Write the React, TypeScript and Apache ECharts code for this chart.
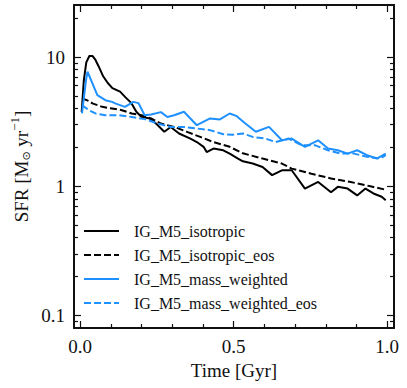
import React, { useEffect, useRef } from "react";
import * as echarts from "echarts";

// ---- data ----
const isoT = [0.005, 0.012, 0.02, 0.03, 0.04, 0.05, 0.06, 0.075, 0.09, 0.105, 0.13, 0.147, 0.167, 0.183, 0.199, 0.226, 0.247, 0.274, 0.295, 0.322, 0.359, 0.38, 0.402, 0.412, 0.434, 0.466, 0.487, 0.514, 0.53, 0.562, 0.594, 0.625, 0.657, 0.689, 0.732, 0.775, 0.817, 0.839, 0.871, 0.902, 0.929, 0.955, 0.982, 0.995];
const isoV = [3.75, 6.6, 9.1, 10.2, 10.2, 9.5, 8.5, 7.1, 6.3, 5.75, 5.4, 4.9, 4.4, 3.77, 3.45, 3.35, 3.06, 2.64, 2.88, 2.56, 2.34, 2.2, 2.02, 1.84, 1.96, 1.9, 1.79, 1.64, 1.56, 1.5, 1.41, 1.22, 1.33, 1.33, 0.96, 1.08, 0.9, 0.99, 0.96, 0.85, 0.96, 0.88, 0.83, 0.78];

const isoEosT = [0.006, 0.03, 0.04, 0.072, 0.104, 0.136, 0.168, 0.2, 0.231, 0.263, 0.306, 0.348, 0.391, 0.434, 0.487, 0.53, 0.594, 0.657, 0.689, 0.753, 0.817, 0.881, 0.945, 0.995];
const isoEosV = [4.8, 4.56, 4.38, 4.12, 4.0, 3.88, 3.66, 3.55, 3.35, 3.06, 2.88, 2.64, 2.41, 2.2, 2.02, 1.8, 1.64, 1.5, 1.37, 1.25, 1.15, 1.08, 1.0, 0.94];

const mwT = [0.006, 0.019, 0.024, 0.04, 0.056, 0.082, 0.104, 0.114, 0.146, 0.173, 0.19, 0.21, 0.231, 0.263, 0.284, 0.306, 0.338, 0.38, 0.423, 0.455, 0.487, 0.51, 0.537, 0.572, 0.615, 0.657, 0.689, 0.732, 0.775, 0.807, 0.839, 0.871, 0.902, 0.934, 0.966, 0.995];
const mwV = [3.66, 6.6, 7.7, 6.25, 5.07, 4.64, 4.5, 4.38, 4.12, 4.5, 4.4, 3.55, 3.6, 3.75, 3.44, 3.55, 3.77, 2.97, 3.35, 3.29, 3.66, 3.49, 3.08, 2.64, 2.88, 2.27, 2.34, 2.02, 2.27, 1.96, 1.9, 1.79, 1.9, 1.74, 1.64, 1.79];

const mwEosT = [0.006, 0.029, 0.05, 0.082, 0.125, 0.168, 0.21, 0.253, 0.295, 0.338, 0.38, 0.423, 0.466, 0.497, 0.53, 0.562, 0.604, 0.636, 0.679, 0.721, 0.764, 0.807, 0.849, 0.892, 0.934, 0.977, 0.995];
const mwEosV = [4.25, 3.88, 3.66, 3.55, 3.55, 3.44, 3.31, 3.06, 2.88, 2.88, 2.8, 2.72, 2.53, 2.51, 2.56, 2.41, 2.34, 2.2, 2.34, 2.08, 2.08, 1.9, 1.79, 1.79, 1.69, 1.64, 1.74];

const seriesNames = ["IG_M5_isotropic", "IG_M5_isotropic_eos", "IG_M5_mass_weighted", "IG_M5_mass_weighted_eos"];

// tick values
const xMajorTicks = [0, 0.5, 1];
const xMajorLabels = ["0.0", "0.5", "1.0"];
const xMinorTicks = [0.1, 0.2, 0.3, 0.4, 0.6, 0.7, 0.8, 0.9];
const yMajorTicks = [0.1, 1, 10];
const yMajorLabels = ["0.1", "1", "10"];
const yMinorTicks = [0.09, 0.2, 0.3, 0.4, 0.5, 0.6, 0.7, 0.8, 0.9, 2, 3, 4, 5, 6, 7, 8, 9, 20];

const X_MIN = -0.02;
const X_MAX = 1.022;
const Y_MIN = 0.08;
const Y_MAX = 25.3;

const FONT = "Liberation Serif";
const BLUE = "#1E90FF";
const INK = "#111";

function pairs(t: number[], v: number[]) {
  return t.map((x, i) => [x, v[i]]);
}

export default function App() {
  const ref = useRef<HTMLDivElement>(null);
  useEffect(() => {
    if (!ref.current) return;
    const chart = echarts.init(ref.current, undefined, { renderer: "svg" });

    const lyMin = Math.log10(Y_MIN);
    const lyMax = Math.log10(Y_MAX);

    const xTickAxis = (pos: string, vals: number[], len: number, line: boolean, labels: boolean, extra: any = {}) => ({
      type: "value",
      min: X_MIN,
      max: X_MAX,
      position: pos,
      gridIndex: 0,
      axisLine: { show: line, onZero: false, lineStyle: { color: INK, width: 2 } },
      axisTick: { show: true, inside: true, length: len, customValues: vals, lineStyle: { color: INK, width: 1.2 } },
      axisLabel: labels
        ? {
            show: true,
            customValues: vals,
            margin: 9,
            fontFamily: FONT,
            fontSize: 19,
            color: INK,
            formatter: (v: number) => xMajorLabels[xMajorTicks.findIndex((m) => Math.abs(m - v) < 1e-6)] ?? "",
          }
        : { show: false },
      splitLine: { show: false },
      ...extra,
    });

    const yTickAxis = (pos: string, vals: number[], len: number, line: boolean, labels: boolean) => ({
      type: "value",
      min: lyMin,
      max: lyMax,
      position: pos,
      gridIndex: 0,
      axisLine: { show: line, onZero: false, lineStyle: { color: INK, width: 2 } },
      axisTick: { show: true, inside: true, length: len, customValues: vals.map(Math.log10), lineStyle: { color: INK, width: 1.2 } },
      axisLabel: labels
        ? {
            show: true,
            customValues: vals.map(Math.log10),
            margin: 9,
            fontFamily: FONT,
            fontSize: 19,
            color: INK,
            formatter: (v: number) => {
              const i = yMajorTicks.findIndex((m) => Math.abs(Math.log10(m) - v) < 1e-6);
              return i >= 0 ? yMajorLabels[i] : "";
            },
          }
        : { show: false },
      splitLine: { show: false },
    });

    const option: any = {
      animation: false,
      backgroundColor: "#fff",
      textStyle: { fontFamily: FONT },
      grid: { left: 68, top: 5, width: 326, height: 323, containLabel: false },
      legend: {
        orient: "vertical",
        left: 83,
        top: 223,
        padding: 0,
        itemWidth: 35,
        itemHeight: 14,
        itemGap: 8,
        itemStyle: { opacity: 0 },
        data: seriesNames,
        formatter: (name: string) => `{t|${name}}`,
        textStyle: {
          fontFamily: FONT,
          fontSize: 16,
          color: INK,
          rich: {
            t: { fontFamily: FONT, fontSize: 16, color: INK, lineHeight: 18, padding: [0, 0, 0, 10] },
          },
        },
      },
      xAxis: [
        xTickAxis("bottom", xMajorTicks, 7, true, true, {
          name: "Time [Gyr]",
          nameLocation: "middle",
          nameGap: 30,
          nameTextStyle: { fontFamily: FONT, fontSize: 19, color: INK },
        }),
        xTickAxis("bottom", xMinorTicks, 4, false, false),
        xTickAxis("top", xMajorTicks, 7, true, false),
        xTickAxis("top", xMinorTicks, 4, false, false),
      ],
      yAxis: [
        {
          type: "log",
          logBase: 10,
          min: Y_MIN,
          max: Y_MAX,
          position: "left",
          gridIndex: 0,
          axisLine: { show: true, onZero: false, lineStyle: { color: INK, width: 2 } },
          axisTick: { show: false },
          axisLabel: { show: false },
          splitLine: { show: false },
          minorTick: { show: false },
          name: "{a|SFR [M}{sub|⊙}{a| yr}{sup|−1}{a|]}",
          nameLocation: "middle",
          nameRotate: 90,
          nameGap: 40,
          nameTextStyle: {
            fontFamily: FONT,
            fontSize: 19,
            color: INK,
            rich: {
              a: { fontFamily: FONT, fontSize: 19, color: INK, lineHeight: 26 },
              sub: { fontFamily: "DejaVu Sans", fontSize: 11, color: INK, verticalAlign: "bottom", lineHeight: 26, padding: [0, 0, 2, 0] },
              sup: { fontFamily: FONT, fontSize: 13, color: INK, verticalAlign: "top", lineHeight: 26 },
            },
          },
        },
        yTickAxis("left", yMajorTicks, 7, false, true),
        yTickAxis("left", yMinorTicks, 4, false, false),
        yTickAxis("right", yMajorTicks, 7, true, false),
        yTickAxis("right", yMinorTicks, 4, false, false),
      ],
      series: [
        { name: seriesNames[0], data: pairs(isoT, isoV), color: "#000", lineStyle: { color: "#000", width: 2, type: "solid" } },
        { name: seriesNames[1], data: pairs(isoEosT, isoEosV), color: "#000", lineStyle: { color: "#000", width: 2, type: [7, 3] } },
        { name: seriesNames[2], data: pairs(mwT, mwV), color: BLUE, lineStyle: { color: BLUE, width: 2, type: "solid" } },
        { name: seriesNames[3], data: pairs(mwEosT, mwEosV), color: BLUE, lineStyle: { color: BLUE, width: 2, type: [7, 3] } },
      ].map((s) => ({
        ...s,
        type: "line",
        xAxisIndex: 0,
        yAxisIndex: 0,
        symbol: "none",
        showSymbol: false,
        smooth: false,
        clip: true,
      })),
    };

    chart.setOption(option);
    return () => chart.dispose();
  }, []);

  return <div ref={ref} style={{ position: "fixed", left: 0, top: 0, width: 407, height: 388, background: "#fff" }} />;
}
